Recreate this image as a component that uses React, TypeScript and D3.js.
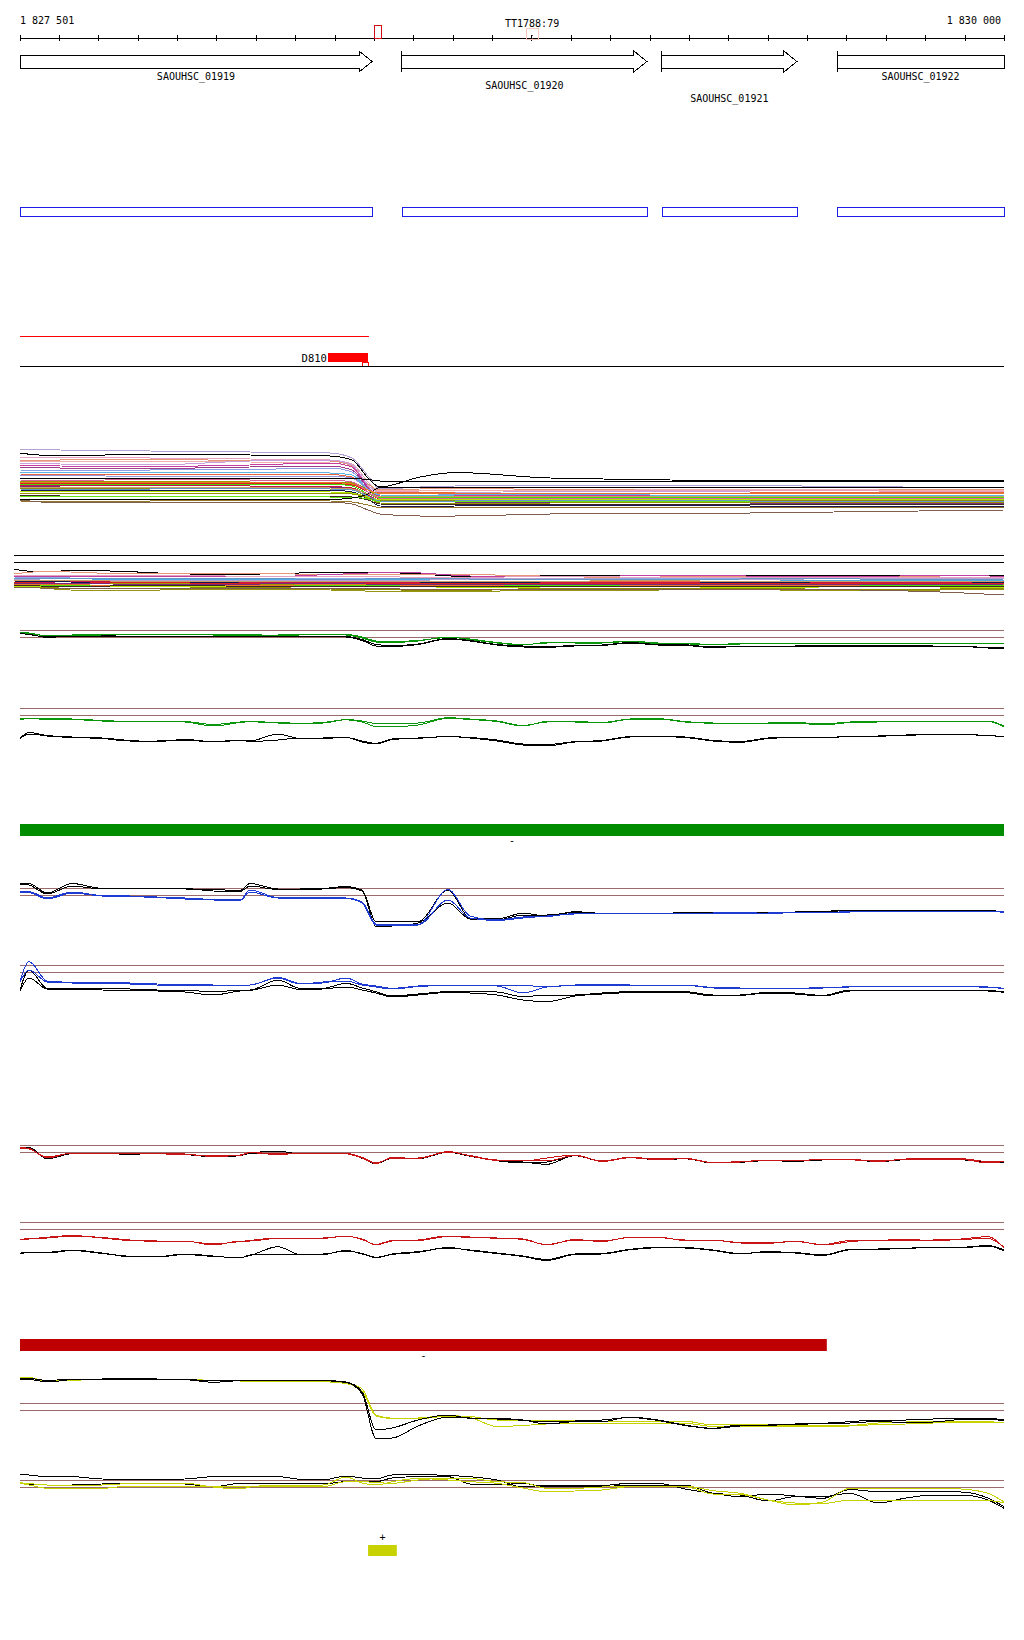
import React from "react";
import * as d3 from "d3";

// ---------- DATA ----------
const startBp = 1827501;
const endBp = 1830000;
const startLabel = "1 827 501";
const endLabel = "1 830 000";
const markerLabel = "TT1788:79";
const markerBp = [1828786, 1828817];
const redMarkBp = [1828400, 1828418];

const geneNames = ["SAOUHSC_01919", "SAOUHSC_01920", "SAOUHSC_01921", "SAOUHSC_01922"];
const geneStarts = [1827501, 1828471, 1829131, 1829576];
const geneEnds = [1828395, 1829093, 1829474, 1830000];
const geneArrow = [true, true, true, false];
const geneLabelRow = [0, 1, 2, 0];

const redLineBp = [1827501, 1828387];
const d810Label = "D810";
const d810Bp = [1828283, 1828385];
const d810SmallBp = [1828370, 1828385];

const greenBarBp = [1827501, 1830000];
const greenBarStrand = "-";
const redBarBp = [1827501, 1829550];
const redBarStrand = "-";
const yellowBoxBp = [1828385, 1828458];
const yellowStrand = "+";

// Multi-colour panel A
const knotsA = [1827501, 1827603, 1827831, 1828085, 1828288, 1828344, 1828385, 1828415, 1828517, 1828606, 1828847, 1829355, 1830000];
const colorsA = ["#b4a0d2", "#000000", "#e6a0c0", "#e8967a", "#f0b0b0", "#c8a0dc", "#c83ca0", "#a03c8c", "#8ca0e6", "#5ab4e6", "#e8643c", "#9696dc", "#000000", "#a09600", "#dc1e1e", "#46dc00", "#c0144a", "#7a2a7a", "#8c8c14", "#141450", "#b4e600", "#969600", "#3c2820", "#64e614", "#000000", "#96782c", "#80604c", "#e87828", "#c8a064", "#d2649a", "#6496c8"];
const valuesA = [
  [9.3, 10, 11, 12, 13, 18, 36, 49, 47, 46, 45, 45.5, 48],
  [13.3, 16, 14, 15, 16, 20, 38, 47, 37, 32.5, 38, 40.5, 40.5],
  [18, 17.5, 18, 19, 20, 24, 42, 52, 51, 50.5, 51, 50.5, 51.5],
  [20, 20, 19.5, 20.5, 21, 26, 44, 50, 49, 48, 49.5, 49, 50],
  [21.7, 22, 21, 22, 23, 27, 46, 51, 50, 51, 50.5, 49.5, 50.5],
  [23.3, 24, 25, 21, 20, 25, 45, 53, 52, 52.5, 51.5, 52, 52.5],
  [25, 26, 26.5, 25, 23, 27, 47, 56, 56, 55.5, 56, 55.5, 56],
  [27.7, 28, 28.5, 27, 26, 30, 48, 58, 59, 58, 58.5, 58, 57.5],
  [30, 30.5, 30, 29.5, 28, 32, 49, 54, 53.5, 54.5, 54, 53.5, 54],
  [32.3, 32, 33, 32.5, 33, 35, 50, 55, 55.5, 55, 54.5, 55.5, 55],
  [34, 34.5, 34, 35, 34.5, 37, 50, 53, 52.5, 53, 53.5, 53, 52.5],
  [36, 35.5, 36.5, 36, 36, 38, 50, 57, 56.5, 57, 56.5, 57, 57.5],
  [38.3, 38.3, 38.3, 38.3, 38.3, 38.5, 39.5, 41, 41, 41, 41, 41, 41],
  [41.7, 42, 41.5, 42, 42, 43, 50, 57, 57.5, 56.5, 57, 57.5, 57],
  [43.3, 43, 44, 43.5, 43.5, 45, 52, 59, 58.5, 59, 59.5, 59, 58.5],
  [44.3, 45, 44.5, 45, 44, 46, 54, 57.5, 58, 57.5, 57, 57.5, 58],
  [45.7, 46, 45.5, 46, 46.5, 48, 55, 60, 60.5, 60, 60.5, 60, 60.5],
  [46.7, 47, 47.5, 47, 47, 49, 57, 63, 63.5, 63, 62.5, 63, 63],
  [48.3, 48, 48.5, 48, 49, 50, 57, 60.5, 60, 61, 60.5, 61, 60.5],
  [50, 50.5, 50, 50.5, 50, 52, 59, 66, 66.5, 66, 65.5, 66, 66.5],
  [51.7, 51, 52, 51.5, 52, 53, 57, 59.5, 60, 59.5, 59, 59.5, 59],
  [53.3, 53, 53.5, 54, 53.5, 54, 58, 63, 63.5, 63, 63, 62.5, 63],
  [55.7, 56, 56.5, 56, 56, 57, 60, 64, 64.5, 64, 64, 64.5, 64],
  [56.7, 56, 57, 56.5, 57, 57, 59, 61.5, 61, 61.5, 62, 61.5, 61],
  [59, 60, 59, 59, 59.5, 58, 54, 47.5, 47.5, 47.5, 47.5, 47.5, 47.5],
  [61, 61.5, 61, 60.5, 61, 62, 65, 67.5, 68, 67.5, 67, 67.5, 67],
  [60, 63, 62, 62, 62, 64, 70, 74, 76, 76, 74, 73, 70],
  [42.5, 43, 42, 43, 42.5, 44, 50, 53.5, 53, 53.5, 54, 53.5, 53],
  [47.5, 47, 48, 47.5, 48, 49, 54, 56.5, 56, 57, 56.5, 56, 56.5],
  [40, 40.5, 39.5, 40, 40, 42, 52, 58.5, 58, 58.5, 59, 58.5, 59],
  [49, 49.5, 49, 48.5, 49, 50, 56, 61, 61.5, 61, 60.5, 61, 61.5],
];

// Multi-colour panel B
const knotsB = [1827486, 1827552, 1827628, 1827730, 1827933, 1828110, 1828288, 1828466, 1828644, 1828822, 1829025, 1829228, 1829431, 1829634, 1829837, 1830000];
const colorsB = ["#000000", "#e8967a", "#c040a0", "#8caae6", "#50aae6", "#b4a0d2", "#e8643c", "#c8144a", "#141450", "#a09600", "#50e000", "#e87828", "#dc1e1e", "#7a2a7a", "#c8a064", "#8c8c00", "#969614", "#b4e600", "#3c2820", "#80604c", "#e6a0c0", "#6496c8"];
const valuesB = [
  [9.3, 12, 10.7, 11, 14, 14, 12.3, 13, 16.7, 16, 15.5, 16, 15, 16, 15.5, 16],
  [14, 11.7, 12, 13.3, 13.3, 13, 15, 14, 14.5, 16, 17.5, 16.5, 17, 16, 17, 17.5],
  [16, 16, 17, 16.5, 16.5, 17, 14.5, 12.3, 16, 17, 16, 15.5, 16.5, 17, 15, 16.5],
  [17, 17.5, 18, 18, 19, 18, 18.5, 18, 18.5, 19, 18, 18.5, 19, 18.5, 19, 18.5],
  [18.5, 19, 18.5, 19.5, 20, 19.5, 19.5, 19, 20, 19.5, 20, 19.5, 20, 20.5, 20, 20.5],
  [19.5, 20, 20.5, 20, 20.5, 21, 20, 20.5, 19, 18.5, 19, 20, 19.5, 18, 18.5, 19],
  [20.5, 21, 21, 21.5, 21, 21, 21.5, 22, 21, 21.5, 22, 21.5, 21, 22, 21.5, 22],
  [22, 22.5, 21.5, 22, 22.5, 23, 22.5, 22, 23, 22.5, 23, 22, 22.5, 23, 22.5, 23],
  [21, 21.5, 22, 23, 22, 23.5, 24.5, 23.5, 22, 23, 24, 23, 22.5, 24, 23.5, 22.5],
  [23.5, 23, 24, 23.5, 23, 24, 24.5, 24, 23.5, 24, 24.5, 24, 23.5, 24.5, 24, 24.5],
  [25, 26, 25.5, 25, 25.5, 25, 26, 25.5, 25, 26, 25.5, 26, 25, 25.5, 26, 25.5],
  [24.5, 25, 24.5, 25.5, 25, 25.5, 24.5, 25, 25.5, 24.5, 25, 25.5, 26, 25, 24.5, 25],
  [22.5, 23, 23.5, 22.5, 23, 23.5, 23, 23.5, 24, 23, 23.5, 23, 24, 23.5, 23, 24],
  [23, 24, 23, 24, 24.5, 24, 23.5, 24.5, 24, 25, 24, 24.5, 25, 24, 25, 24],
  [20, 21, 20.5, 21, 22, 21.5, 21, 22, 21.5, 22, 20.5, 21, 22, 21.5, 22, 21],
  [26, 27, 28.5, 29, 28, 27.5, 29, 30, 30.5, 28.5, 29, 28, 28.5, 30, 29, 28.5],
  [27, 28, 30, 30.7, 29.5, 29, 30, 31.7, 31.7, 30, 30.5, 29.5, 30, 31, 30, 29.5],
  [26.5, 27, 26, 26.5, 27, 26.5, 27, 26.5, 27.5, 27, 26.5, 27, 27.5, 26.5, 27, 27],
  [25.5, 26, 26.5, 26, 25.5, 26.5, 26, 27, 26, 26.5, 27, 26, 26.5, 27, 26.5, 26],
  [27.5, 28, 28.5, 28, 28.5, 29, 28.5, 29, 29.5, 29, 29.5, 29, 29.5, 30, 32, 35],
  [15.5, 15, 15.5, 16, 15.5, 16.5, 16, 17, 17.5, 16.5, 17, 17.5, 17, 17.5, 18, 17.5],
  [18, 18.5, 19, 18.5, 19, 18.5, 19.5, 18.5, 19, 19.5, 19, 19.5, 18.5, 19, 19.5, 19],
];

// Profile panels (shared positions)
const knots = [1827501, 1827524, 1827570, 1827633, 1827709, 1827780, 1827849, 1827920, 1827992, 1828060, 1828085, 1828156, 1828212, 1828270, 1828329, 1828370, 1828405, 1828446, 1828512, 1828588, 1828644, 1828712, 1828778, 1828839, 1828910, 1828979, 1829050, 1829121, 1829190, 1829261, 1829330, 1829401, 1829469, 1829540, 1829609, 1829680, 1829751, 1829820, 1829891, 1829959, 1830000];

const green1Thr = [5.5, 12.5];
const green1A = [7.3, 8, 11, 10, 9.5, 9, 9.5, 9.5, 9.5, 10, 10, 10, 9.5, 9.3, 9.5, 12, 16, 16.5, 15.5, 12.5, 14, 17.5, 19.5, 18, 17.5, 17.5, 16, 18, 18.3, 19.5, 18.5, 18, 18.5, 18, 18.3, 18, 18.5, 18.3, 18.5, 18.2, 18.5];
const green1B = [7.5, 8.5, 10.5, 10.5, 10, 9.5, 10, 9, 10, 10, 9.8, 10.3, 10, 9.5, 10, 13, 17, 17.5, 16, 12, 14.5, 18, 20, 17.5, 18, 18, 16.5, 18.5, 18.8, 20, 19, 18.5, 18.8, 18.5, 18.7, 18.3, 18.8, 18.6, 18.5, 18.5, 19];
const green1K1 = [8, 9, 12.5, 11, 11, 11, 11.3, 11, 11, 11.3, 11, 11, 11, 11.3, 11.5, 14.5, 19.5, 20.5, 19, 13.5, 15.5, 19.5, 21, 21.5, 20.5, 20, 17.5, 19.5, 19.8, 22, 21.3, 21, 21, 20.5, 20.5, 21, 20.8, 21, 21.3, 22.5, 23];
const green1K2 = [8.5, 9.5, 12, 11.5, 10.5, 11.5, 11, 11.5, 11.3, 11, 11.5, 11.2, 11.3, 11, 12, 15.5, 21, 21.5, 19.5, 14, 16, 20, 22, 22.3, 21, 20.5, 18, 20, 20.5, 22.5, 21.5, 21.5, 21.3, 21, 21, 21.3, 21.3, 21.5, 21.5, 23, 23.5];

const green2Thr = [8.5, 15.5];
const green2A = [19, 18.5, 18.7, 19, 20.5, 21.5, 21.7, 21.7, 24.5, 22, 21.7, 23, 23, 23, 19.5, 21, 23.5, 23.5, 23, 17.7, 19, 21, 25.5, 22, 21.5, 22.5, 19, 18.7, 21.5, 23.3, 23.3, 23, 22.5, 24, 22, 21.7, 21.7, 21.5, 21.7, 21, 26];
const green2B = [19.5, 18.7, 19.3, 19.5, 21, 21.7, 21.3, 22, 26, 22.5, 21.7, 22.5, 23.3, 22.5, 19.8, 22, 26.5, 26.7, 25, 18.3, 19.5, 21.5, 26, 21.5, 22, 23, 19.3, 19, 22, 23, 23.5, 23.3, 23, 25, 22.5, 22, 21.5, 21.7, 21.5, 21.3, 27];
const green2K1 = [38, 32.5, 35.5, 37, 38, 40.5, 41.5, 39.5, 41.7, 40, 41.5, 40, 38, 38, 37.5, 41, 43.3, 39, 38, 36.7, 37.5, 40, 44, 44.5, 41.7, 40.5, 36.7, 36.7, 37, 40.5, 41.5, 38, 37.3, 38, 36.3, 36, 35.5, 34.3, 34.5, 35.5, 36.7];
const green2K2 = [38.5, 34, 36, 37.5, 38.5, 41, 41, 40, 42, 40.5, 41, 34, 38.5, 38.5, 37.3, 42, 44, 39.5, 38.3, 36.5, 38, 41, 45, 46, 42, 41, 37, 36.5, 37.5, 41, 42.3, 38.5, 37.5, 37.5, 36.5, 36.3, 35, 34.5, 34.8, 35.3, 37];

const blue1Thr = [8.5, 15.5];
const blue1A = [11.7, 11.7, 18, 12, 15.5, 16, 17, 18, 19.5, 20, 10, 17.5, 17.5, 17.7, 18, 22, 44, 45, 44.5, 9.5, 36, 40, 37, 36.5, 33.5, 33.3, 33.3, 33, 33.3, 33.5, 33, 33, 32.5, 32.5, 31.7, 31.7, 31.5, 31.7, 31.3, 31.7, 32];
const blue1B = [12, 12.5, 19, 13, 16, 16.5, 17.5, 19, 20, 20.5, 12, 18, 18, 18, 18.5, 23, 45, 45.5, 45, 20, 38, 40.5, 38, 36, 34, 33.5, 33, 33.5, 33, 33, 32.5, 33.3, 32.7, 32.3, 32, 31.5, 31.7, 31.3, 31.5, 31.5, 32.3];
const blue1K1 = [3.3, 3.5, 13, 3.5, 8.3, 8.3, 8.5, 9, 9.5, 10.5, 3.5, 9, 9, 8.5, 6.5, 10, 41.7, 42, 41.5, 10, 38, 39, 33.3, 36, 31.7, 33.3, 33, 33.3, 32.7, 32.5, 33, 32.5, 32, 31.5, 30, 30.3, 30, 30, 30, 30.5, 31.7];
const blue1K2 = [4, 5, 14, 6, 9, 8.8, 9, 8.5, 11, 11.5, 6, 9.5, 9.3, 9, 7.5, 11, 46.7, 46, 43, 23, 39, 40, 35, 35, 32.5, 33.5, 33.5, 33, 33.5, 33, 33.3, 33, 32.5, 32, 30.5, 30.7, 30.3, 30.5, 30.3, 31, 31.5];

const blue2Thr = [10.5, 17.5];
const blue2A = [26, 6.7, 26, 27.3, 27.5, 28, 29, 29.5, 30, 30, 30, 22.3, 28.3, 28, 23, 29, 31, 33.3, 31, 30, 30, 30, 30.5, 31.5, 30, 29.5, 30, 30, 30, 32.5, 33, 33.3, 33, 33, 31.7, 31.7, 31.5, 31.7, 31.5, 32, 33.3];
const blue2B = [27, 15, 27, 28, 28, 29, 30, 30, 30.5, 30.3, 30, 23, 29, 27, 26, 30, 32, 34, 31.5, 30.5, 30.5, 31, 38, 32, 30.5, 30, 30.5, 30.5, 30.3, 33, 33.5, 33.5, 33.3, 32.7, 32, 31.5, 32, 31.5, 31.7, 32.3, 33.5];
const blue2K1 = [35, 15, 33.3, 33.3, 33.5, 34, 35, 35, 37, 35, 35, 25, 33.3, 33.3, 28.3, 33, 36.7, 41, 39, 36.7, 36.7, 37, 41.7, 40, 40, 38, 36.7, 36.7, 36.7, 40, 40, 37.3, 38, 40.5, 35, 35, 35, 35, 35, 35.5, 36.7];
const blue2K2 = [36, 23, 34, 34, 35, 35.5, 36, 37, 40, 36, 35.5, 30, 34.5, 34, 32, 35, 38, 42, 40, 37.5, 38, 40, 45, 46.7, 41, 39, 37.5, 37, 37.5, 41, 40.5, 38, 39, 41, 36, 35.5, 35.3, 35, 35.5, 36, 37.3];

const red1Thr = [5.5, 12.5];
const red1A = [8, 9, 17, 13.3, 13.3, 13.5, 13.3, 14, 16.5, 15, 12.7, 14.5, 13.3, 13.3, 13.3, 17.5, 23, 18, 18, 12, 15.5, 20, 20, 21, 15.5, 21, 17.3, 19, 18.3, 22.5, 22, 20, 20.5, 19.5, 19.3, 21.5, 19, 18.7, 18.7, 21.5, 21];
const red1B = [7.5, 8.5, 18, 13, 13.8, 13, 13.8, 14.5, 16, 15.5, 12.3, 14, 13.8, 13, 13.8, 18, 23.5, 17.5, 18.5, 11.5, 16, 20.5, 21, 18, 15, 21.5, 17.8, 19.5, 18.7, 22.7, 21.5, 20.5, 21, 19, 19.8, 21, 19.3, 19, 19.2, 23, 21.5];
const red1K1 = [8.5, 7.5, 18.5, 13.5, 13.5, 14.3, 13.3, 14.5, 16.7, 15.3, 13, 13, 13.8, 13.5, 13.5, 18, 23.3, 18.5, 18.5, 12, 16, 20.3, 22, 24.3, 15.5, 21.3, 17.5, 19.3, 18.5, 22.7, 22.3, 20.3, 21, 19.8, 19.5, 21.3, 19.5, 19.2, 19.5, 21.7, 22];
const red1K2 = [8.3, 8, 18.8, 13.7, 13.2, 14, 13.7, 14.2, 17, 15.7, 13.3, 11, 14, 13.7, 13.2, 18.3, 23.7, 18.2, 18.7, 12.3, 16.3, 20.7, 23, 22, 15.8, 21, 17.7, 19.7, 18.8, 23, 22, 20.7, 21.3, 20, 19.7, 21.7, 19.7, 19.5, 19.8, 22, 22.5];

const red2Thr = [7.5, 14.5];
const red2A = [25, 24, 22.3, 20.5, 23, 25.5, 26, 26, 30, 26, 26, 23.3, 23.3, 23, 21.5, 24, 30, 26, 25, 21, 22, 23.3, 24, 30, 24.5, 26.5, 22.3, 22.5, 25, 25, 28, 28.3, 26, 30, 26.7, 25, 25, 25, 24, 21.7, 33];
const red2B = [24.5, 23.5, 23, 21, 22.5, 25, 26.5, 26.3, 29, 26.5, 25.5, 23, 24, 23.5, 21, 24.5, 29.5, 25.5, 25.5, 21.5, 22.5, 23, 24.5, 29.5, 25, 26, 22.5, 22, 25.5, 25.5, 27.5, 28, 26.5, 29.5, 25.5, 25.3, 24.5, 25.5, 24.5, 23.5, 32];
const red2K1 = [38.3, 37, 37.3, 35, 38, 41.7, 41.7, 39, 41, 43, 40, 39, 39, 39, 36, 38.5, 42.3, 39, 36.7, 33, 35, 38, 41, 44.5, 39, 38.5, 34.3, 32.3, 32.5, 35, 38.5, 37, 37.5, 40, 34.3, 34, 33.5, 32.3, 32.3, 30.5, 35];
const red2K2 = [38.8, 37.5, 38, 35.5, 38.5, 41.3, 42, 39.5, 41.5, 42.5, 40.5, 31.7, 39.5, 39.5, 35.5, 39, 42.5, 39.5, 37.3, 32.5, 35.5, 38.5, 41.5, 45.5, 39.5, 39, 34.8, 32.8, 33, 35.5, 39, 36.5, 38, 40.5, 34.8, 34.5, 33.2, 32.7, 32.7, 31, 36];

const yellow1Thr = [33.5, 40.5];
const yellow1A = [8.3, 8, 11, 10, 9.3, 9.3, 9.5, 9.3, 10.5, 11, 11, 11, 11, 11.3, 12.7, 19, 45, 48.3, 49, 46, 46.5, 50, 50, 50, 50, 51, 51.5, 51.5, 51.3, 55, 54.5, 55, 55.5, 56, 55.5, 53, 52, 51.7, 51.5, 51.7, 53];
const yellow1B = [8, 7.5, 11.5, 10.3, 9.5, 9, 9.8, 9.7, 10.3, 10.8, 11.3, 10.7, 11.3, 11.7, 13.5, 21, 46, 48.5, 48, 45.5, 47.5, 56.5, 55.5, 54, 53.5, 53.3, 53.3, 53.3, 53.3, 56.5, 56.7, 56.5, 56.3, 56.3, 56, 54.5, 54, 53, 52.5, 53, 52];
const yellow1K1 = [9, 8.5, 10.5, 9, 9, 8.8, 9, 9.5, 10.5, 10.5, 10.5, 10.7, 10.5, 10.5, 12, 22, 60, 58, 50, 45, 48.3, 48.5, 50, 54, 51.7, 51.7, 47, 50, 55, 58.3, 55, 55, 54.5, 53.3, 51.7, 50, 50, 49, 48.3, 48.3, 50];
const yellow1K2 = [9.5, 9.5, 12, 9.7, 9.3, 9.3, 9.5, 9.7, 12.3, 10.7, 10.7, 11, 10.8, 10.7, 12.5, 24, 68.3, 68, 56, 47, 48, 49, 50.3, 52, 51, 50, 47.5, 50.5, 55.5, 58.5, 56, 55.5, 54, 53.7, 53, 51.5, 52.5, 52, 49.5, 49, 51];

const yellow2Thr = [15.5, 22.5];
const yellow2A = [17.7, 18.5, 20, 20, 20, 18.5, 18.3, 18.3, 22, 24, 22, 20, 20, 20, 12, 18, 20, 16.7, 13.5, 15, 16.7, 18.3, 23, 26.7, 26, 25, 21.7, 21.7, 21.7, 29, 29.5, 35, 38, 38.5, 35, 35, 35, 35, 35, 35.5, 37.7];
const yellow2B = [18.3, 20, 23.3, 23.3, 23.3, 21, 21, 21, 21.7, 22, 21.7, 21.7, 21.7, 21.7, 16.7, 16.7, 17.5, 18.3, 15, 13.3, 13.5, 16.7, 17.5, 23.3, 23.3, 22, 21, 21, 21, 25.7, 28.3, 35, 40, 37, 23.3, 23.3, 23.3, 23.3, 24, 28.3, 37];
const yellow2K1 = [9, 10, 11.7, 11.7, 14, 14.3, 14.3, 14, 11.7, 11.7, 11.7, 11.7, 14.3, 15, 11, 13, 14, 10, 9.5, 10.5, 11.7, 15, 22, 20, 20, 20.5, 18.3, 18.3, 24, 28.3, 31.7, 29, 31, 33.3, 24.5, 26.7, 26.7, 26.7, 27, 33, 41.7];
const yellow2K2 = [18.3, 19, 20, 20, 19, 18.3, 18.3, 19, 21.7, 18.3, 18.3, 18.3, 18.3, 19, 16.7, 16.7, 16.7, 13, 11.7, 11.7, 19, 20, 18.3, 22, 21.7, 21.7, 20, 20, 20, 28.3, 30, 36, 31.7, 31.7, 28.3, 38, 33, 30, 30, 35, 43.3];

// ---------- STYLE / LAYOUT ----------
const FONT = "'DejaVu Sans Mono', 'Liberation Mono', monospace";
const BLACK = "#000000";
const GREEN = "#0a960a";
const BLUE = "#1e3cd2";
const RED = "#c81414";
const YELLOW = "#c8d200";
const BROWN = "#9b6b6b";

const profilePanels = [
  { top: 625, thr: green1Thr, series: [[green1K1, BLACK], [green1K2, BLACK], [green1A, GREEN], [green1B, GREEN]] },
  { top: 700, thr: green2Thr, series: [[green2K1, BLACK], [green2K2, BLACK], [green2A, GREEN], [green2B, GREEN]] },
  { top: 880, thr: blue1Thr, series: [[blue1K1, BLACK], [blue1K2, BLACK], [blue1A, BLUE], [blue1B, BLUE]] },
  { top: 955, thr: blue2Thr, series: [[blue2K1, BLACK], [blue2K2, BLACK], [blue2A, BLUE], [blue2B, BLUE]] },
  { top: 1140, thr: red1Thr, series: [[red1K1, BLACK], [red1K2, BLACK], [red1A, RED], [red1B, RED]] },
  { top: 1215, thr: red2Thr, series: [[red2K1, BLACK], [red2K2, BLACK], [red2A, RED], [red2B, RED]] },
  { top: 1370, thr: yellow1Thr, series: [[yellow1A, YELLOW], [yellow1B, YELLOW], [yellow1K1, BLACK], [yellow1K2, BLACK]] },
  { top: 1465, thr: yellow2Thr, series: [[yellow2K1, BLACK], [yellow2K2, BLACK], [yellow2A, YELLOW], [yellow2B, YELLOW]] },
];

export default function App() {
  const x = d3.scaleLinear().domain([startBp, endBp]).range([20, 1004]);
  const xL = x(startBp);
  const xR = x(endBp);
  const ticks = d3.range(1827500, endBp + 1, 100);

  const makeLine = (kn: number[], top: number) => {
    const y = d3.scaleLinear().domain([0, 100]).range([top, top + 100]);
    return d3
      .line<number>()
      .x((_, i) => x(kn[i]))
      .y((v) => y(v))
      .curve(d3.curveMonotoneX);
  };

  const lineA = makeLine(knotsA, 440);
  const lineB = makeLine(knotsB, 560);
  const lineP = (top: number) => makeLine(knots, top);

  const labelRowY = [80, 89, 101.5];
  const geneCy = 61.5;
  const mid = (a: number[]) => (x(a[0]) + x(a[1])) / 2;

  return (
    <svg
      width={1024}
      height={1640}
      style={{ position: "absolute", left: 0, top: 0, background: "#fff" }}
      fontFamily={FONT}
      fontSize={10}
    >
      <rect x={0} y={0} width={1024} height={1640} fill="#fff" />
      {/* Axis */}
      <text x={xL} y={24} fill={BLACK}>{startLabel}</text>
      <text x={1001} y={24} textAnchor="end" fill={BLACK}>{endLabel}</text>
      <text x={mid(markerBp)} y={26.5} textAnchor="middle" fill={BLACK}>{markerLabel}</text>
      <line x1={xL} x2={xR} y1={38.5} y2={38.5} stroke={BLACK} shapeRendering="crispEdges" />
      {ticks.map((t) => (
        <line key={t} x1={Math.round(x(t)) + 0.5} x2={Math.round(x(t)) + 0.5} y1={35} y2={41} stroke={BLACK} shapeRendering="crispEdges" />
      ))}
      <rect x={Math.round(x(redMarkBp[0])) + 0.5} y={25.5} width={x(redMarkBp[1]) - x(redMarkBp[0])} height={13} fill="none" stroke="#d01010" shapeRendering="crispEdges" />
      <rect x={Math.round(x(markerBp[0])) + 0.5} y={28.5} width={x(markerBp[1]) - x(markerBp[0])} height={11} fill="none" stroke="#f5c8c0" shapeRendering="crispEdges" />
      <line x1={Math.round(mid(markerBp)) + 0.5} x2={Math.round(mid(markerBp)) + 0.5} y1={35} y2={40} stroke="#804040" strokeDasharray="1,2" shapeRendering="crispEdges" />

      {/* Genes */}
      {geneNames.map((name, i) => {
        const s = x(geneStarts[i]);
        const e = x(geneEnds[i]);
        const top = geneCy - 6.5;
        const bot = geneCy + 6.5;
        let pts: string;
        if (geneArrow[i]) {
          const hb = e - 13;
          pts = `${s},${top} ${hb},${top} ${hb},${geneCy - 10.5} ${e},${geneCy} ${hb},${geneCy + 10.5} ${hb},${bot} ${s},${bot}`;
        } else {
          pts = `${s},${top} ${e},${top} ${e},${bot} ${s},${bot}`;
        }
        const leftBar = geneStarts[i] > startBp;
        return (
          <g key={name}>
            <polygon points={pts} fill="#fff" stroke={BLACK} strokeWidth={1} shapeRendering="crispEdges" />
            {leftBar && <line x1={s} x2={s} y1={geneCy - 10.5} y2={geneCy + 10.5} stroke={BLACK} shapeRendering="crispEdges" />}
            <text x={(s + e) / 2} y={labelRowY[geneLabelRow[i]]} textAnchor="middle" fill={BLACK}>{name}</text>
          </g>
        );
      })}

      {/* Blue feature boxes */}
      {geneNames.map((name, i) => (
        <rect key={"b" + name} x={x(geneStarts[i]) + 0.5} y={207.5} width={x(geneEnds[i]) - x(geneStarts[i])} height={9} fill="none" stroke="#1e1ee6" shapeRendering="crispEdges" />
      ))}

      {/* Red line + D810 */}
      <line x1={x(redLineBp[0])} x2={x(redLineBp[1])} y1={336.5} y2={336.5} stroke="#ff0000" shapeRendering="crispEdges" />
      <text x={x(d810Bp[0]) - 1} y={362} textAnchor="end" fill={BLACK} fontSize={10.5}>{d810Label}</text>
      <rect x={x(d810Bp[0])} y={353} width={x(d810Bp[1]) - x(d810Bp[0])} height={9} fill="#ff0000" shapeRendering="crispEdges" />
      <rect x={x(d810SmallBp[0]) + 0.5} y={362.5} width={x(d810SmallBp[1]) - x(d810SmallBp[0])} height={4} fill="#fff" stroke="#ff0000" shapeRendering="crispEdges" />
      <line x1={xL} x2={xR} y1={366.5} y2={366.5} stroke={BLACK} shapeRendering="crispEdges" />

      {/* Panel A */}
      {valuesA.map((vals, i) => (
        <path key={"a" + i} d={lineA(vals) || ""} fill="none" stroke={colorsA[i]} strokeWidth={1} shapeRendering="crispEdges" />
      ))}

      {/* Two black separators */}
      <line x1={14} x2={xR} y1={555.5} y2={555.5} stroke={BLACK} shapeRendering="crispEdges" />
      <line x1={14} x2={xR} y1={562.5} y2={562.5} stroke={BLACK} shapeRendering="crispEdges" />

      {/* Panel B */}
      {valuesB.map((vals, i) => (
        <path key={"bb" + i} d={lineB(vals) || ""} fill="none" stroke={colorsB[i]} strokeWidth={1} shapeRendering="crispEdges" />
      ))}

      {/* Profile panels */}
      {profilePanels.map((p, pi) => {
        const y = d3.scaleLinear().domain([0, 100]).range([p.top, p.top + 100]);
        const gen = lineP(p.top);
        return (
          <g key={"p" + pi}>
            {p.thr.map((t, ti) => (
              <line key={ti} x1={xL} x2={xR} y1={y(t)} y2={y(t)} stroke={BROWN} shapeRendering="crispEdges" />
            ))}
            {p.series.map(([vals, col], si) => (
              <path key={si} d={gen(vals as number[]) || ""} fill="none" stroke={col as string} strokeWidth={1} shapeRendering="crispEdges" />
            ))}
          </g>
        );
      })}

      {/* Green bar */}
      <rect x={x(greenBarBp[0])} y={824} width={x(greenBarBp[1]) - x(greenBarBp[0])} height={12} fill="#008c00" />
      <text x={mid(greenBarBp)} y={844} textAnchor="middle" fill={BLACK}>{greenBarStrand}</text>

      {/* Red bar */}
      <rect x={x(redBarBp[0])} y={1339} width={x(redBarBp[1]) - x(redBarBp[0])} height={12} fill="#be0000" />
      <text x={mid(redBarBp)} y={1359} textAnchor="middle" fill={BLACK}>{redBarStrand}</text>

      {/* Yellow box */}
      <text x={mid(yellowBoxBp)} y={1541} textAnchor="middle" fill={BLACK}>{yellowStrand}</text>
      <rect x={x(yellowBoxBp[0])} y={1545} width={x(yellowBoxBp[1]) - x(yellowBoxBp[0])} height={11} fill={YELLOW} />
    </svg>
  );
}
